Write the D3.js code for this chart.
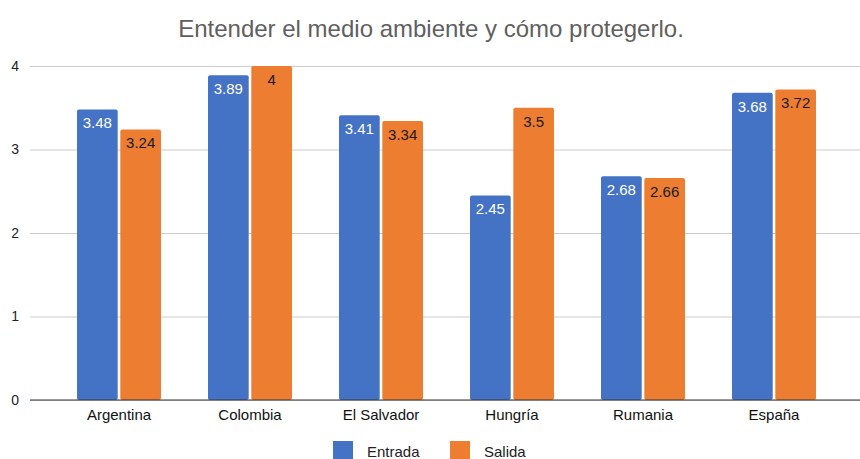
<!DOCTYPE html>
<html><head><meta charset="utf-8">
<script src="https://cdn.jsdelivr.net/npm/d3@7"></script>
<style>body{margin:0;background:#fff;} svg{display:block;font-family:"Liberation Sans",Arial,sans-serif;}</style>
</head><body>
<svg id="chart" width="860" height="459"></svg>
<script>
const categories = ["Argentina","Colombia","El Salvador","Hungría","Rumania","España"];
const seriesNames = ["Entrada","Salida"];
const entrada = [3.48, 3.89, 3.41, 2.45, 2.68, 3.68];
const salida = [3.24, 4, 3.34, 3.5, 2.66, 3.72];
const yTicks = [0,1,2,3,4];
const colors = ["#4472C4","#ED7D31"];
const labelColors = ["#ffffff","#1a1a1a"];
const title = "Entender el medio ambiente y cómo protegerlo.";

const svg = d3.select("#chart");
const y = d3.scaleLinear().domain([0,4]).range([400,66]);
const x = d3.scaleBand().domain(categories).range([53.5,839.5]).padding(0);
const xInner = d3.scaleBand().domain(seriesNames).range([0,84]).paddingInner(0.06);

svg.append("text").attr("x",431).attr("y",37).attr("text-anchor","middle")
  .attr("font-size",24).attr("fill","#5f5f5f").text(title);

// gridlines
const yAxis = d3.axisLeft(y).tickValues(yTicks).tickSize(-830).tickFormat(d3.format("d"));
const gy = svg.append("g").attr("transform","translate(30,0)").call(yAxis);
gy.select(".domain").remove();
gy.selectAll(".tick line").attr("stroke","#cccccc").attr("stroke-width",1);
gy.selectAll(".tick text").attr("x",-11).attr("font-size",14).attr("fill","#222")
  .attr("font-family","Liberation Sans, Arial, sans-serif");

// bars
const data = categories.map((c,i)=>({cat:c, vals:[entrada[i], salida[i]]}));
const groups = svg.append("g").selectAll("g").data(data).join("g")
  .attr("transform", d=>`translate(${x(d.cat)+x.bandwidth()/2-42},0)`);
groups.selectAll("rect").data(d=>d.vals.map((v,j)=>({v,j}))).join("rect")
  .attr("x", d=>xInner(seriesNames[d.j]))
  .attr("y", d=>y(d.v))
  .attr("width", xInner.bandwidth())
  .attr("height", d=>y(0)-y(d.v))
  .attr("rx",2)
  .attr("fill", d=>colors[d.j]);
groups.selectAll("text").data(d=>d.vals.map((v,j)=>({v,j}))).join("text")
  .attr("x", d=>xInner(seriesNames[d.j])+xInner.bandwidth()/2)
  .attr("y", d=>y(d.v)+19)
  .attr("text-anchor","middle")
  .attr("font-size",15)
  .attr("fill", d=>labelColors[d.j])
  .text(d=>d.v);

// baseline
svg.append("line").attr("x1",30).attr("x2",860).attr("y1",y(0)).attr("y2",y(0)).attr("stroke","#333");

// x labels
const xAxis = d3.axisBottom(x).tickSize(0).tickPadding(0);
const gx = svg.append("g").attr("transform",`translate(0,${y(0)})`).call(xAxis);
gx.select(".domain").remove();
gx.selectAll("text").attr("dy",null).attr("y",20).attr("font-size",15).attr("fill","#111")
  .attr("font-family","Liberation Sans, Arial, sans-serif");

// legend
const leg = svg.append("g");
const legX = [333, 450];
seriesNames.forEach((s,i)=>{
  leg.append("rect").attr("x",legX[i]).attr("y",441).attr("width",20).attr("height",20).attr("fill",colors[i]);
  leg.append("text").attr("x",legX[i]+34).attr("y",457).attr("font-size",15).attr("fill","#222").text(s);
});
</script>
</body></html>
